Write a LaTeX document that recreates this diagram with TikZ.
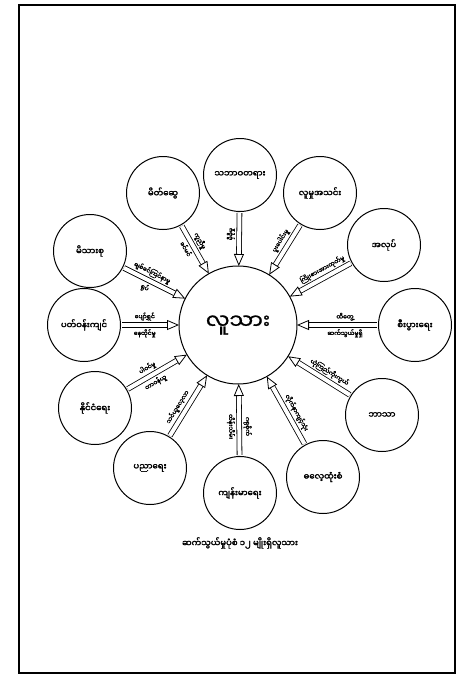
\documentclass[tikz,border=0pt]{standalone}
\usepackage{fontspec}
\newfontfamily\mya[Script=Myanmar,FakeBold=1]{Noto Sans Myanmar UI}
\newfontfamily\myab[Script=Myanmar,FakeBold=2.5]{Noto Sans Myanmar UI}
\usetikzlibrary{arrows.meta,calc}
\begin{document}
\begin{tikzpicture}[x=1pt,y=-1pt,
  outer/.style={circle,draw,line width=1pt,minimum size=73pt,inner sep=0pt,font=\myab\fontsize{8.5}{9}\selectfont},
  hub/.style={circle,draw,line width=1pt,minimum size=118pt,inner sep=0pt,font=\mya\fontsize{21}{24}\selectfont},
  pencil/.style={double,double distance=4pt,line width=0.8pt,-{Triangle[open,length=12pt,width=10pt]}},
  lbl/.style={font=\myab\fontsize{6}{7}\selectfont,sloped,inner sep=4pt,pos=0.4},
  frame/.style={line width=1.3pt}]
\useasboundingbox (0,0) rectangle (472,677);
\draw[frame] (19,5) rectangle (455,673);

\node[hub] (c) at (238,325) {လူသား};

\node[outer] (o1)  at (240,175) {သဘာဝတရား};
\node[outer] (o2)  at (320,193) {လူမှုအသင်း};
\node[outer] (o3)  at (384,245) {အလုပ်};
\node[outer] (o4)  at (415,325) {စီးပွားရေး};
\node[outer] (o5)  at (382,415) {ဘာသာ};
\node[outer] (o6)  at (323,477) {ဓလေ့ထုံးစံ};
\node[outer] (o7)  at (240,493) {ကျန်းမာရေး};
\node[outer] (o8)  at (150,468) {ပညာရေး};
\node[outer] (o9)  at (95,408)  {နိုင်ငံရေး};
\node[outer] (o10) at (84,325)  {ပတ်ဝန်းကျင်};
\node[outer] (o11) at (90,251)  {မိသားစု};
\node[outer] (o12) at (163,193) {မိတ်ဆွေ};

\draw[pencil] ($(o1)!38pt!(c)$) -- ($(c)!59pt!(o1)$) node[lbl,above]{မှီခိုမှု};
\draw[pencil] ($(o2)!38pt!(c)$) -- ($(c)!59pt!(o2)$) node[lbl,above]{ပူးပေါင်းမှု};
\draw[pencil] ($(o3)!38pt!(c)$) -- ($(c)!59pt!(o3)$) node[lbl,above]{ကြိုးစားအားထုတ်မှု};
\draw[pencil] ($(o4)!38pt!(c)$) -- ($(c)!59pt!(o4)$) node[lbl,above]{ထိတွေ့}
  node[lbl,below]{ဆက်သွယ်မှုရှိ};
\draw[pencil] ($(o5)!38pt!(c)$) -- ($(c)!59pt!(o5)$) node[lbl,above]{ယုံကြည်ကိုးကွယ်};
\draw[pencil] ($(o6)!38pt!(c)$) -- ($(c)!59pt!(o6)$) node[lbl,above]{လိုက်နာကျင့်သုံး};
\draw[pencil] ($(o7)!38pt!(c)$) -- ($(c)!59pt!(o7)$) node[lbl,above]{ဂရုစိုက်}
  node[lbl,below]{ထိန်းသိမ်း};
\draw[pencil] ($(o8)!38pt!(c)$) -- ($(c)!59pt!(o8)$) node[lbl,above]{သင်ယူလေ့လာ};
\draw[pencil] ($(o9)!38pt!(c)$) -- ($(c)!59pt!(o9)$) node[lbl,above]{ပါဝင်မှု}
  node[lbl,below]{တာဝန်ယူ};
\draw[pencil] ($(o10)!38pt!(c)$) -- ($(c)!59pt!(o10)$) node[lbl,above]{ပျော်ရွှင်}
  node[lbl,below]{နေထိုင်မှု};
\draw[pencil] ($(o11)!38pt!(c)$) -- ($(c)!59pt!(o11)$) node[lbl,above]{ချစ်ခင်ကြင်နာမှု}
  node[lbl,below]{ရုပ်};
\draw[pencil] ($(o12)!38pt!(c)$) -- ($(c)!59pt!(o12)$) node[lbl,above]{ကူညီမှု}
  node[lbl,below]{ခင်မင်};

\node[font=\myab\fontsize{8.5}{10}\selectfont] (cap) at (240,543) {ဆက်သွယ်မှုပုံစံ ၁၂ မျိုးရှိလူသား};
\end{tikzpicture}
\end{document}
